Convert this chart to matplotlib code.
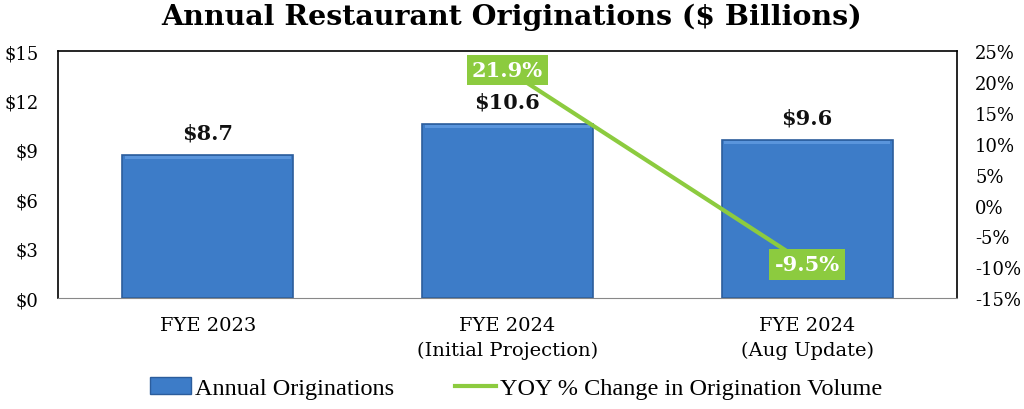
import matplotlib
matplotlib.use("Agg")
import matplotlib.pyplot as plt
from matplotlib.patches import Patch
from matplotlib.lines import Line2D

categories = ["FYE 2023", "FYE 2024\n(Initial Projection)", "FYE 2024\n(Aug Update)"]
originations = [8.7, 10.6, 9.6]
bar_labels = ["$8.7", "$10.6", "$9.6"]
yoy_x = [1, 2]
yoy_change = [21.9, -9.5]
yoy_labels = ["21.9%", "-9.5%"]
left_ticks = [0, 3, 6, 9, 12, 15]
right_ticks = [-15, -10, -5, 0, 5, 10, 15, 20, 25]

BLUE = "#3d7cc8"
BLUE_TOP = "#5a95dc"
BLUE_EDGE = "#2c5d9c"
GREEN = "#8ccb3f"
SERIF = ["DejaVu Serif"]

fig = plt.figure(figsize=(10.24, 4.10), dpi=100)
ax = fig.add_axes([0.0566, 0.27, 0.878, 0.603])

x = list(range(len(categories)))
bars = ax.bar(x, originations, width=0.57, color=BLUE, edgecolor=BLUE_EDGE,
              linewidth=1.2, zorder=2)
# light bevel along the top of each bar
for b in bars:
    ax.bar(b.get_x() + b.get_width() / 2, 0.18, bottom=b.get_height() - 0.25,
           width=b.get_width() * 0.97, color=BLUE_TOP, linewidth=0, zorder=2.5)
for xi, v, lab in zip(x, originations, bar_labels):
    ax.text(xi, v + 0.75, lab, ha="center", va="bottom", fontsize=15,
            fontweight="bold", family=SERIF, color="#111111")

ax.set_xlim(-0.5, 2.5)
ax.set_ylim(0, 15)
ax.set_yticks(left_ticks)
ax.set_yticklabels([f"${t}" for t in left_ticks], family=SERIF, fontsize=13)
ax.set_xticks(x)
ax.set_xticklabels(categories, family=SERIF, fontsize=14, linespacing=1.45)
ax.tick_params(axis="y", length=0, pad=14)
ax.tick_params(axis="x", length=0, pad=13)
for s in ["left", "top", "right"]:
    ax.spines[s].set_color("black")
    ax.spines[s].set_linewidth(1.2)
ax.spines["bottom"].set_color("#888888")

ax2 = ax.twinx()
ax2.set_ylim(-15, 25)
ax2.set_yticks(right_ticks)
ax2.set_yticklabels([f"{t}%" for t in right_ticks], family=SERIF, fontsize=13)
ax2.tick_params(length=0, pad=13)
for s in ax2.spines.values():
    s.set_visible(False)
ax2.plot(yoy_x, yoy_change, color=GREEN, linewidth=3, zorder=3)
for xi, v, lab in zip(yoy_x, yoy_change, yoy_labels):
    ax2.text(xi, v, lab, ha="center", va="center", fontsize=15, fontweight="bold",
             family=SERIF, color="white", zorder=4,
             bbox=dict(boxstyle="square,pad=0.25", facecolor=GREEN, edgecolor="none"))

fig.suptitle("Annual Restaurant Originations ($ Billions)", y=0.99, fontsize=20.5,
             fontweight="bold", family=SERIF)

handles = [Patch(facecolor=BLUE, edgecolor=BLUE_EDGE), Line2D([0], [0], color=GREEN, linewidth=3)]
fig.legend(handles, ["Annual Originations", "YOY % Change in Origination Volume"],
           loc="lower center", bbox_to_anchor=(0.504, -0.03), ncol=2, frameon=False,
           prop={"family": "Liberation Serif", "size": 17.5}, handlelength=1.7,
           handletextpad=0.15, columnspacing=2.5)

fig.savefig("out.png", dpi=100)
